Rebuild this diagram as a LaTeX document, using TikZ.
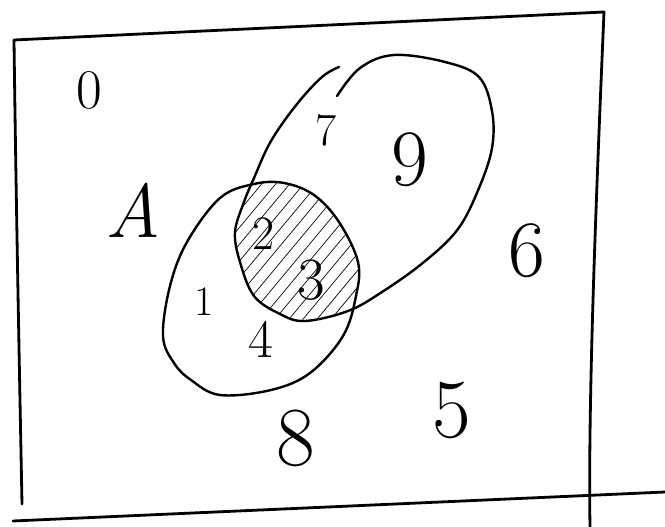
\documentclass[tikz,border=0pt]{standalone}
\usepackage{fontspec}
\begin{document}
\begin{tikzpicture}[x=1pt,y=-1pt,
  frame/.style={line width=2.8pt,line cap=round,line join=round},
  setline/.style={line width=2.4pt,line cap=round},
  hatch/.style={line width=0.7pt},
  lbl/.style={inner sep=0pt,anchor=center}]
\useasboundingbox (0,0) rectangle (665,527);
% frame
\draw[frame] (14,40) -- (604,12);
\draw[frame] (14,40) .. controls (16,200) and (20,400) .. (22,504);
\draw[frame] (604,12) .. controls (596,200) and (588,400) .. (590,527);
\draw[frame] (13,521) -- (665,492);
% big set
\draw[setline] plot[smooth,tension=0.6] coordinates {(337,96) (360,68) (394,55) (445,62) (479,77) (492,111) (492,148) (479,188) (458,229) (424,262) (382,292) (348,311) (305,321) (280,314) (254,296) (240,262) (235,232) (244,202) (254,178) (271,141) (297,104) (322,77) (339,67)};
% set A
\draw[setline] plot[smooth cycle,tension=0.6] coordinates {(254,184) (220,198) (187,242) (170,286) (163,336) (174,363) (191,380) (220,395) (271,390) (310,373) (343,336) (356,296) (358,262) (339,222) (314,195) (284,183)};
% hatching of intersection
\begin{scope}
\clip plot[smooth cycle,tension=0.6] coordinates {(254,184) (220,198) (187,242) (170,286) (163,336) (174,363) (191,380) (220,395) (271,390) (310,373) (343,336) (356,296) (358,262) (339,222) (314,195) (284,183)};
\clip plot[smooth cycle,tension=0.6] coordinates {(337,96) (360,68) (394,55) (445,62) (479,77) (492,111) (492,148) (479,188) (458,229) (424,262) (382,292) (348,311) (305,321) (280,314) (254,296) (240,262) (235,232) (244,202) (254,178) (271,141) (297,104) (322,77) (339,67)};
\foreach \i in {-100,-86,...,450} \draw[hatch] (\i,450) -- (\i+250,150);
\end{scope}
% labels
\node[lbl,font=\fontsize{56}{56}\selectfont] (n0) at (89,90) {0};
\node[lbl,font=\fontsize{76}{76}\selectfont\itshape] (nA) at (133,210) {A};
\node[lbl,font=\fontsize{46}{46}\selectfont] (n7) at (326,130) {7};
\node[lbl,font=\fontsize{80}{80}\selectfont] (n9) at (410,160) {9};
\node[lbl,font=\fontsize{48}{48}\selectfont] (n2) at (264,234) {2};
\node[lbl,font=\fontsize{60}{60}\selectfont] (n3) at (311,280) {3};
\node[lbl,font=\fontsize{80}{80}\selectfont] (n6) at (527,251) {6};
\node[lbl,font=\fontsize{42}{42}\selectfont] (n1) at (204,302) {1};
\node[lbl,font=\fontsize{54}{54}\selectfont] (n4) at (261,339) {4};
\node[lbl,font=\fontsize{84}{84}\selectfont] (n8) at (296,438) {8};
\node[lbl,font=\fontsize{84}{84}\selectfont] (n5) at (452,410) {5};
\end{tikzpicture}
\end{document}
